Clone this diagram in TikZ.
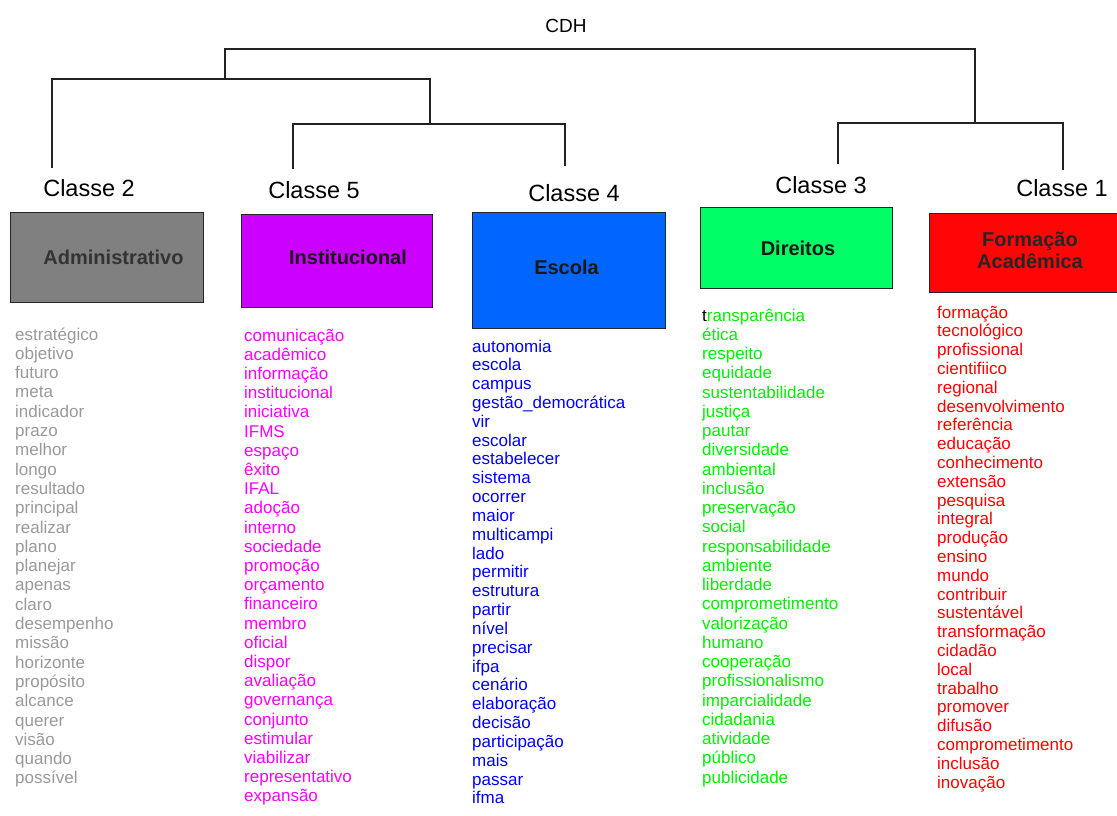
\documentclass[tikz,border=0pt]{standalone}
\usepackage{fontspec}
\setmainfont{Liberation Sans}
\definecolor{wgray}{HTML}{999999}
\definecolor{wmag}{HTML}{FF00FF}
\definecolor{wblue}{HTML}{0000FF}
\definecolor{wgreen}{HTML}{00F000}
\definecolor{wred}{HTML}{FF0000}
\definecolor{fadm}{HTML}{808080}
\definecolor{finst}{HTML}{CC00FF}
\definecolor{fesc}{HTML}{0066FF}
\definecolor{fdir}{HTML}{00FF66}
\definecolor{fform}{HTML}{FF0505}
\definecolor{linec}{HTML}{222222}
\begin{document}
\begin{tikzpicture}[x=1pt,y=-1pt,
  tree/.style={draw=linec,line width=1.3pt},
  clslabel/.style={inner sep=0,font=\fontsize{23.5}{26}\selectfont},
  catbox/.style={draw=black!85,line width=1pt,inner sep=0},
  boxlabel/.style={inner sep=0,font=\fontsize{20}{22}\selectfont\bfseries},
  word/.style={anchor=base west,inner sep=0,font=\fontsize{17}{20}\selectfont}]
\useasboundingbox (0,0) rectangle (1117,816);
% root
\node[inner sep=0,font=\fontsize{19}{22}\selectfont] (cdh) at (566,26) {CDH};
% dendrogram coordinates
\coordinate (r1) at (225,49);
\coordinate (r2) at (975,49);
\coordinate (a0) at (225,79);
\coordinate (a1) at (52,79);
\coordinate (a2) at (430,79);
\coordinate (b0) at (430,124);
\coordinate (b1) at (293,124);
\coordinate (b2) at (565,124);
\coordinate (c0) at (975,123);
\coordinate (c1) at (838,123);
\coordinate (c2) at (1063,123);
\coordinate (l2) at (52,168);
\coordinate (l5) at (293,169);
\coordinate (l4) at (565,166);
\coordinate (l3) at (838,164);
\coordinate (l1) at (1063,170);
\draw[tree] (a0) -- (r1) -- (r2) -- (c0);
\draw[tree] (l2) -- (a1) -- (a2) -- (b0);
\draw[tree] (l5) -- (b1) -- (b2) -- (l4);
\draw[tree] (l3) -- (c1) -- (c2) -- (l1);
% class labels
\node[clslabel] (k2) at (89,188) {Classe 2};
\node[clslabel] (k5) at (314,190) {Classe 5};
\node[clslabel] (k4) at (574,193) {Classe 4};
\node[clslabel] (k3) at (821,185) {Classe 3};
\node[clslabel] (k1) at (1062,188) {Classe 1};
% boxes
\node[catbox,fill=fadm,minimum width=193pt,minimum height=90pt] (badm) at (106.5,257) {};
\node[catbox,fill=finst,minimum width=191pt,minimum height=93pt] (binst) at (336.5,260.5) {};
\node[catbox,fill=fesc,minimum width=193pt,minimum height=116pt] (besc) at (568.5,270) {};
\node[catbox,fill=fdir,minimum width=192pt,minimum height=81pt] (bdir) at (796,247.5) {};
\node[catbox,fill=fform,minimum width=193pt,minimum height=79pt] (bform) at (1025.5,252.5) {};
\node[boxlabel,text=black!80] (tadm) at (113.5,257) {Administrativo};
\node[boxlabel,text=black!90] (tinst) at (348,257) {Institucional};
\node[boxlabel,text=black!90] (tesc) at (566.5,267) {Escola};
\node[boxlabel,text=black!90] (tdir) at (798,248) {Direitos};
\node[boxlabel,text=black!85,align=center] (tform) at (1030,250) {Formação\\Acadêmica};
% word lists
\foreach \w [count=\i from 0] in {estratégico,objetivo,futuro,meta,indicador,prazo,melhor,longo,resultado,principal,realizar,plano,planejar,apenas,claro,desempenho,missão,horizonte,propósito,alcance,querer,visão,quando,possível}
  \node[word,text=wgray] (wa\i) at (15,{340+\i*19.3}) {\w};
\foreach \w [count=\i from 0] in {comunicação,acadêmico,informação,institucional,iniciativa,IFMS,espaço,êxito,IFAL,adoção,interno,sociedade,promoção,orçamento,financeiro,membro,oficial,dispor,avaliação,governança,conjunto,estimular,viabilizar,representativo,expansão}
  \node[word,text=wmag] (wi\i) at (244,{341+\i*19.2}) {\w};
\foreach \w [count=\i from 0] in {autonomia,escola,campus,gestão\_democrática,vir,escolar,estabelecer,sistema,ocorrer,maior,multicampi,lado,permitir,estrutura,partir,nível,precisar,ifpa,cenário,elaboração,decisão,participação,mais,passar,ifma}
  \node[word,text=wblue] (we\i) at (472,{352+\i*18.83}) {\w};
\foreach \w [count=\i from 0] in {{\textcolor{black}{t}ransparência},ética,respeito,equidade,sustentabilidade,justiça,pautar,diversidade,ambiental,inclusão,preservação,social,responsabilidade,ambiente,liberdade,comprometimento,valorização,humano,cooperação,profissionalismo,imparcialidade,cidadania,atividade,público,publicidade}
  \node[word,text=wgreen] (wd\i) at (702,{321+\i*19.25}) {\w};
\foreach \w [count=\i from 0] in {formação,tecnológico,profissional,cientifiico,regional,desenvolvimento,referência,educação,conhecimento,extensão,pesquisa,integral,produção,ensino,mundo,contribuir,sustentável,transformação,cidadão,local,trabalho,promover,difusão,comprometimento,inclusão,inovação}
  \node[word,text=wred] (wf\i) at (937,{318+\i*18.8}) {\w};
\end{tikzpicture}
\end{document}
